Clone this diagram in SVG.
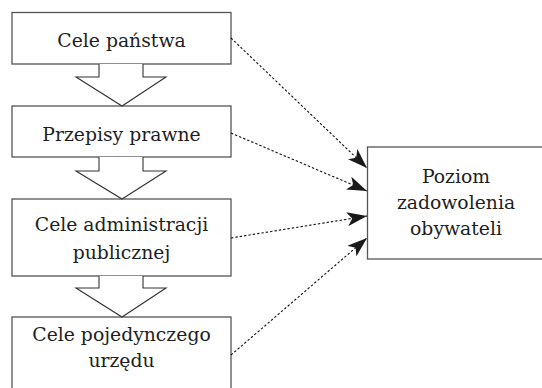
<svg xmlns="http://www.w3.org/2000/svg" width="542" height="388" viewBox="0 0 542 388">
<style>
.box{fill:#fff;stroke:#555;stroke-width:1.3}
.blk{fill:#fff;stroke:#333;stroke-width:1.1;stroke-linejoin:miter}
.t{font-family:"DejaVu Serif","Liberation Serif",serif;font-size:18.8px;fill:#1e1e1e;text-anchor:middle}
.dl{fill:none;stroke:#111;stroke-width:1.1;stroke-dasharray:2.4 2}
</style>
<defs>
<marker id="ah" viewBox="0 0 20 14" refX="20" refY="7" markerWidth="20" markerHeight="14" markerUnits="userSpaceOnUse" orient="auto">
<path d="M0,0 L20,7 L0,14 L5,7 Z" fill="#1a1a1a"/>
</marker>
</defs>
<rect width="542" height="388" fill="#fff"/>
<g id="n1">
<rect class="box" x="12" y="12.5" width="219" height="51.5"/>
<text class="t" x="121.5" y="47">Cele państwa</text>
</g>
<g id="n2">
<rect class="box" x="12" y="106" width="219" height="51"/>
<text class="t" x="121.5" y="141">Przepisy prawne</text>
</g>
<g id="n3">
<rect class="box" x="12" y="199" width="219" height="77"/>
<text class="t" x="121.5" y="231">Cele administracji</text>
<text class="t" x="121.5" y="259">publicznej</text>
</g>
<g id="n4">
<rect class="box" x="12" y="317" width="219" height="80"/>
<text class="t" x="121.5" y="341">Cele pojedynczego</text>
<text class="t" x="121.5" y="367">urzędu</text>
</g>
<g id="n5">
<rect class="box" x="367.5" y="147" width="190" height="112"/>
<text class="t" x="456" y="183">Poziom</text>
<text class="t" x="456" y="209">zadowolenia</text>
<text class="t" x="456" y="235">obywateli</text>
</g>
<g id="connectors">
<polyline class="blk" points="99,64 99,77 76,77 122,106 166,77 143,77 143,64"/>
<polyline class="blk" points="99,157 99,171 76,171 122,199 166,171 143,171 143,157"/>
<polyline class="blk" points="99,276 99,288 76,288 122,317 166,288 143,288 143,276"/>
<line class="dl" x1="231" y1="38" x2="367" y2="168" marker-end="url(#ah)"/>
<line class="dl" x1="231" y1="133" x2="367" y2="191" marker-end="url(#ah)"/>
<line class="dl" x1="231" y1="238" x2="367" y2="216" marker-end="url(#ah)"/>
<line class="dl" x1="231" y1="355" x2="367" y2="238" marker-end="url(#ah)"/>
</g>
</svg>
